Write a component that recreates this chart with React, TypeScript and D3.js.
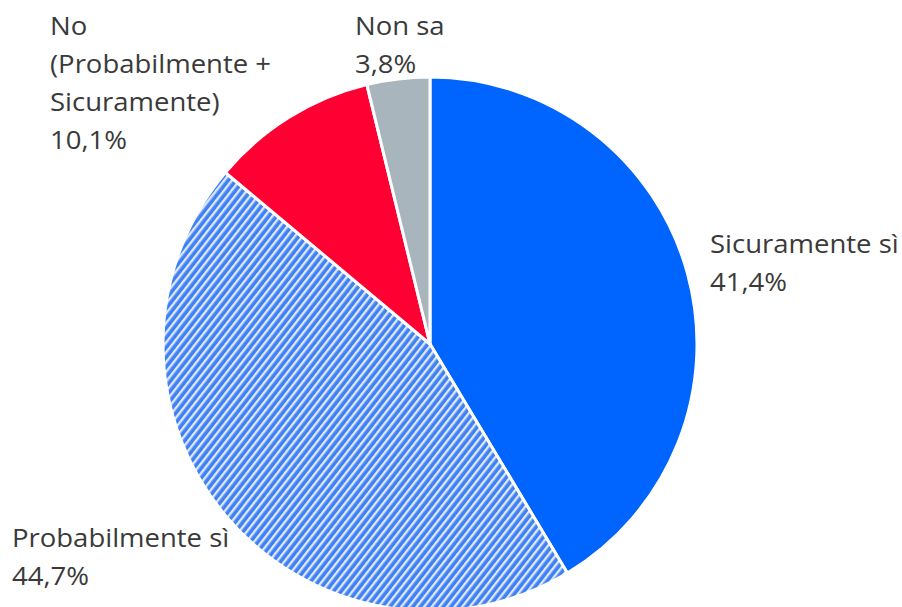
import React from "react";
import * as d3 from "d3";

const categories = ["Sicuramente sì", "Probabilmente sì", "No (Probabilmente + Sicuramente)", "Non sa"];
const values = [41.4, 44.7, 10.1, 3.8];
const labelLines = [
  ["Sicuramente sì", "41,4%"],
  ["Probabilmente sì", "44,7%"],
  ["No", "(Probabilmente +", "Sicuramente)", "10,1%"],
  ["Non sa", "3,8%"],
];
const labelPos = [
  [710, 253],
  [12, 547],
  [50, 35],
  [355, 35],
];
const fills = ["#0064FF", "url(#hatch)", "#FF0033", "#A9B5BC"];

export default function App() {
  const W = 902, H = 607;
  const cx = 430, cy = 344, r = 267;
  const pie = d3.pie<number>().sort(null).value((d) => d)(values);
  const arc = d3.arc<d3.PieArcDatum<number>>().innerRadius(0).outerRadius(r);
  return (
    <svg width={W} height={H} style={{ position: "absolute", left: 0, top: 0 }}>
      <defs>
        <pattern id="hatch" width="6" height="6" patternUnits="userSpaceOnUse" patternTransform="rotate(38)">
          <rect width="6" height="6" fill="#3F80F2" />
          <rect width="2.4" height="6" fill="#DCE8FF" />
        </pattern>
      </defs>
      <rect width={W} height={H} fill="#fff" />
      <g transform={`translate(${cx},${cy})`}>
        {pie.map((p, i) => (
          <path key={categories[i]} d={arc(p) || ""} fill={fills[i]} stroke="#fff" strokeWidth={3} strokeLinejoin="round" />
        ))}
      </g>
      {labelLines.map((lines, i) => (
        <g key={i} transform={`translate(${labelPos[i][0]},${labelPos[i][1]}) scale(1.1,1)`}>
          <text x={0} y={0} fill="#3a3a3a" fontFamily="'Open Sans', sans-serif" fontSize={25}>
            {lines.map((l, j) => (
              <tspan key={j} x={0} dy={j === 0 ? 0 : 38}>{l}</tspan>
            ))}
          </text>
        </g>
      ))}
    </svg>
  );
}
